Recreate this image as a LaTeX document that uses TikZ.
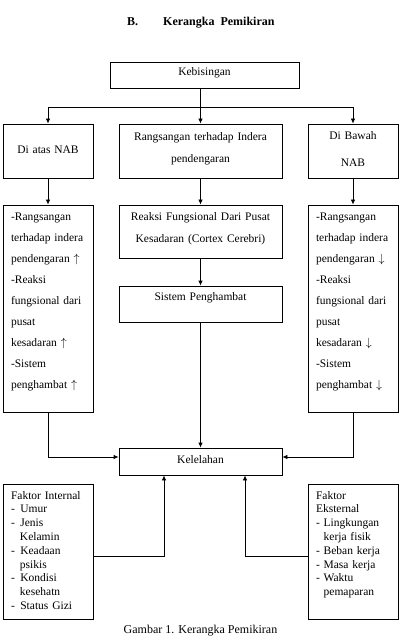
\documentclass[tikz,border=0pt]{standalone}
\usepackage{fontspec}
\setmainfont{Liberation Serif}
\usetikzlibrary{arrows.meta}
\newcommand{\fidash}{-\hspace{5.5pt}}
\newcommand{\fiind}{\hspace*{9pt}}
\begin{document}
\begin{tikzpicture}[x=1pt,y=-1pt,
  box/.style={draw, line width=0.8pt, inner xsep=0pt, inner ysep=0pt, align=left,
    font=\fontsize{11.5}{21.1}\selectfont},
  sbox/.style={box, text width=74pt, minimum width=90pt},
  mbox/.style={box, align=center, text width=151pt, minimum width=163pt},
  fbox/.style={sbox, font=\fontsize{11.5}{13.8}\selectfont},
  arr/.style={-{Latex[length=5pt,width=4.5pt]}, line width=0.8pt},
  ln/.style={line width=0.8pt}]
\useasboundingbox (0,0) rectangle (402,636);

\node[font=\fontsize{12}{14}\selectfont\bfseries, anchor=base west, inner sep=0pt] (title) at (127,26) {B.\hspace{25pt}Kerangka\ \ Pemikiran};

\node[box, align=center, text width=177pt, minimum width=189pt, text height=14pt, text depth=12pt] (keb) at (204.5,75) {Kebisingan};

\node[sbox, align=center, text height=30pt, text depth=24pt] (L1) at (48,151) {Di atas NAB};
\node[mbox, text height=17pt, text depth=37pt] (M1) at (200.5,151) {Rangsangan terhadap Indera\\pendengaran};
\node[sbox, align=center, font=\fontsize{11.5}{27}\selectfont, text height=16pt, text depth=38pt] (R1) at (353,151) {Di Bawah\\NAB};

\node[sbox, text height=15pt, text depth=192pt] (L2) at (48,308.5) {-Rangsangan\\terhadap indera\\pendengaran $\uparrow$\\-Reaksi\\\makebox[72pt][s]{fungsional dari}\\pusat\\kesadaran $\uparrow$\\-Sistem\\penghambat $\uparrow$};
\node[mbox, font=\fontsize{11.5}{22}\selectfont, text height=15pt, text depth=38pt] (M2) at (200.5,231.5) {Reaksi Fungsional Dari Pusat\\Kesadaran (Cortex Cerebri)};
\node[mbox, text height=14pt, text depth=22pt] (M3) at (200.5,304) {Sistem Penghambat};
\node[sbox, text height=15pt, text depth=192pt] (R2) at (353,308.5) {-Rangsangan\\terhadap indera\\pendengaran $\downarrow$\\-Reaksi\\\makebox[72pt][s]{fungsional dari}\\pusat\\kesadaran $\downarrow$\\-Sistem\\penghambat $\downarrow$};

\node[mbox, text height=15pt, text depth=12pt] (Kel) at (200.5,461.5) {Kelelahan};

\node[fbox, text height=15pt, text depth=120pt] (FI) at (48,551.5) {Faktor Internal\\\fidash Umur\\\fidash Jenis\\\fiind Kelamin\\\fidash Keadaan\\\fiind psikis\\\fidash Kondisi\\\fiind kesehatn\\\fidash Status Gizi};
\node[fbox, text height=15pt, text depth=120pt] (FE) at (353,551.5) {Faktor\\Eksternal\\- Lingkungan\\\phantom{- }kerja fisik\\- Beban kerja\\- Masa kerja\\- Waktu\\\phantom{- }pemaparan};

\node[font=\fontsize{12}{14}\selectfont, anchor=base, inner sep=0pt] (cap) at (200.5,633.5) {Gambar 1. Kerangka Pemikiran};

\coordinate (J) at (200.5,107);
\draw[ln] (keb.south -| J) -- (J);
\draw[arr] (J) -- (M1.north);
\draw[arr] (J) -| (L1.north);
\draw[arr] (J) -| (R1.north);
\draw[arr] (L1.south) -- (L2.north);
\draw[arr] (M1.south) -- (M2.north);
\draw[arr] (R1.south) -- (R2.north);
\draw[arr] (M2.south) -- (M3.north);
\draw[arr] (M3.south) -- (Kel.north);
\draw[arr] (L2.south) |- ([yshift=4.5pt]Kel.west);
\draw[arr] (R2.south) |- ([yshift=4.5pt]Kel.east);
\draw[arr] ([yshift=-5pt]FI.east) -| ([xshift=-36.5pt]Kel.south);
\draw[arr] ([yshift=-5pt]FE.west) -| ([xshift=44.5pt]Kel.south);
\end{tikzpicture}
\end{document}
